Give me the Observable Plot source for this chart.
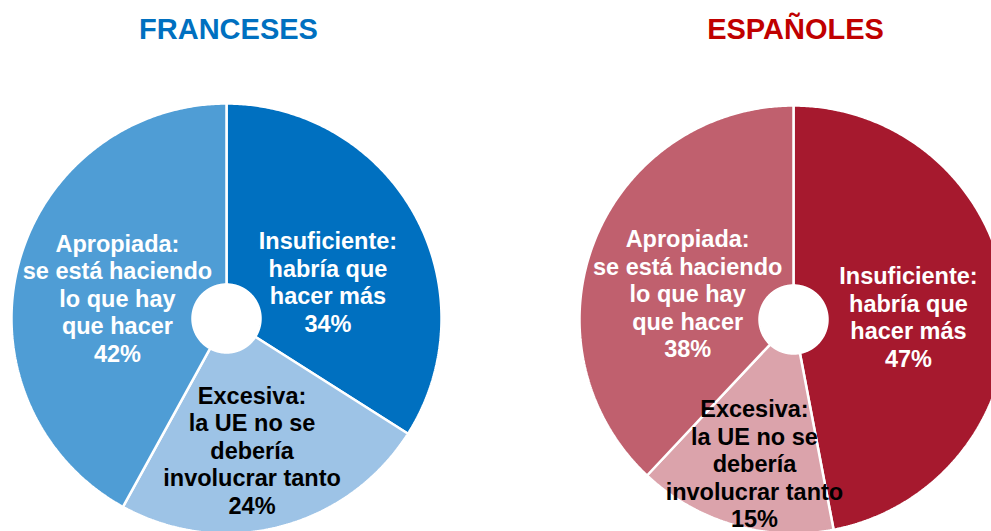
<!DOCTYPE html>
<html>
<head>
<meta charset="utf-8">
<script src="https://cdn.jsdelivr.net/npm/d3@7"></script>
<script src="https://cdn.jsdelivr.net/npm/@observablehq/plot@0.6"></script>
<style>
  html, body { margin: 0; padding: 0; background: #fff; }
  #chart svg { display: block; }
</style>
</head>
<body>
<div id="chart"></div>
<script>
// ---- Data ----
const groups = ["FRANCESES", "ESPAÑOLES"];
const categories = ["Insuficiente", "Excesiva", "Apropiada"];
const francesesValues = [34, 24, 42];
const espanolesValues = [47, 15, 38];
const categoryLines = [
  ["Insuficiente:", "habría que", "hacer más"],
  ["Excesiva:", "la UE no se", "debería", "involucrar tanto"],
  ["Apropiada:", "se está haciendo", "lo que hay", "que hacer"]
];

// ---- Styles / layout ----
const titleColors = ["#0070C0", "#C00000"];
const sliceColors = [
  ["#0070C0", "#9DC3E6", "#4F9DD5"],
  ["#A6192E", "#DBA3AB", "#C0606E"]
];
const labelColors = ["white", "black", "white"];
const pieLayout = [
  {cx: 226, cy: 318, r: 215, inner: 34},
  {cx: 793, cy: 319, r: 214, inner: 34}
];
// label placement in polar terms (degrees clockwise from top, radius px)
const labelPolar = [
  [{a: 70, rho: 108}, {a: 169, rho: 134}, {a: 280.7, rho: 111}],
  [{a: 88.5, rho: 115}, {a: 195.2, rho: 149}, {a: 283.8, rho: 109}]
];
const W = 991, H = 531;

// ---- Build geometry from data ----
const seriesValues = [francesesValues, espanolesValues];
const pie = d3.pie().sort(null).startAngle(0).endAngle(2 * Math.PI);
const slicePoints = [];
const labels = [];
const titles = [];
groups.forEach((g, gi) => {
  const {cx, cy, r, inner} = pieLayout[gi];
  titles.push({text: g, x: cx + 2, y: 29, color: titleColors[gi]});
  const arcs = pie(seriesValues[gi]);
  arcs.forEach((arc, ci) => {
    const key = g + "-" + categories[ci];
    const color = sliceColors[gi][ci];
    const n = Math.max(4, Math.ceil((arc.endAngle - arc.startAngle) / (Math.PI / 360)));
    for (let k = 0; k <= n; k++) {
      const a = arc.startAngle + (arc.endAngle - arc.startAngle) * k / n;
      slicePoints.push({key, color, x: cx + r * Math.sin(a), y: cy - r * Math.cos(a)});
    }
    for (let k = n; k >= 0; k--) {
      const a = arc.startAngle + (arc.endAngle - arc.startAngle) * k / n;
      slicePoints.push({key, color, x: cx + inner * Math.sin(a), y: cy - inner * Math.cos(a)});
    }
    const lp = labelPolar[gi][ci];
    const la = lp.a * Math.PI / 180;
    labels.push({
      text: categoryLines[ci].join("\n") + "\n" + seriesValues[gi][ci] + "%",
      x: cx + lp.rho * Math.sin(la),
      y: cy - lp.rho * Math.cos(la),
      color: labelColors[ci]
    });
  });
});

const chart = Plot.plot({
  width: W,
  height: H,
  margin: 0,
  x: {domain: [0, W], range: [0, W], axis: null},
  y: {domain: [0, H], range: [0, H], axis: null},
  color: {type: "identity"},
  style: {fontFamily: "'Liberation Sans', Arial, sans-serif", background: "white"},
  marks: [
    Plot.line(slicePoints, {
      x: "x", y: "y", z: "key",
      fill: "color", stroke: "white", strokeWidth: 2.5,
      curve: "linear-closed", strokeLinejoin: "miter"
    }),
    Plot.text(labels, {
      x: "x", y: "y", text: "text", fill: "color",
      fontSize: 23.5, fontWeight: "bold", lineHeight: 1.17,
      textAnchor: "middle", lineAnchor: "middle"
    }),
    Plot.text(titles, {
      x: "x", y: "y", text: "text", fill: "color",
      fontSize: 29, fontWeight: "bold",
      textAnchor: "middle", lineAnchor: "middle"
    })
  ]
});
document.getElementById("chart").appendChild(chart);
</script>
</body>
</html>
